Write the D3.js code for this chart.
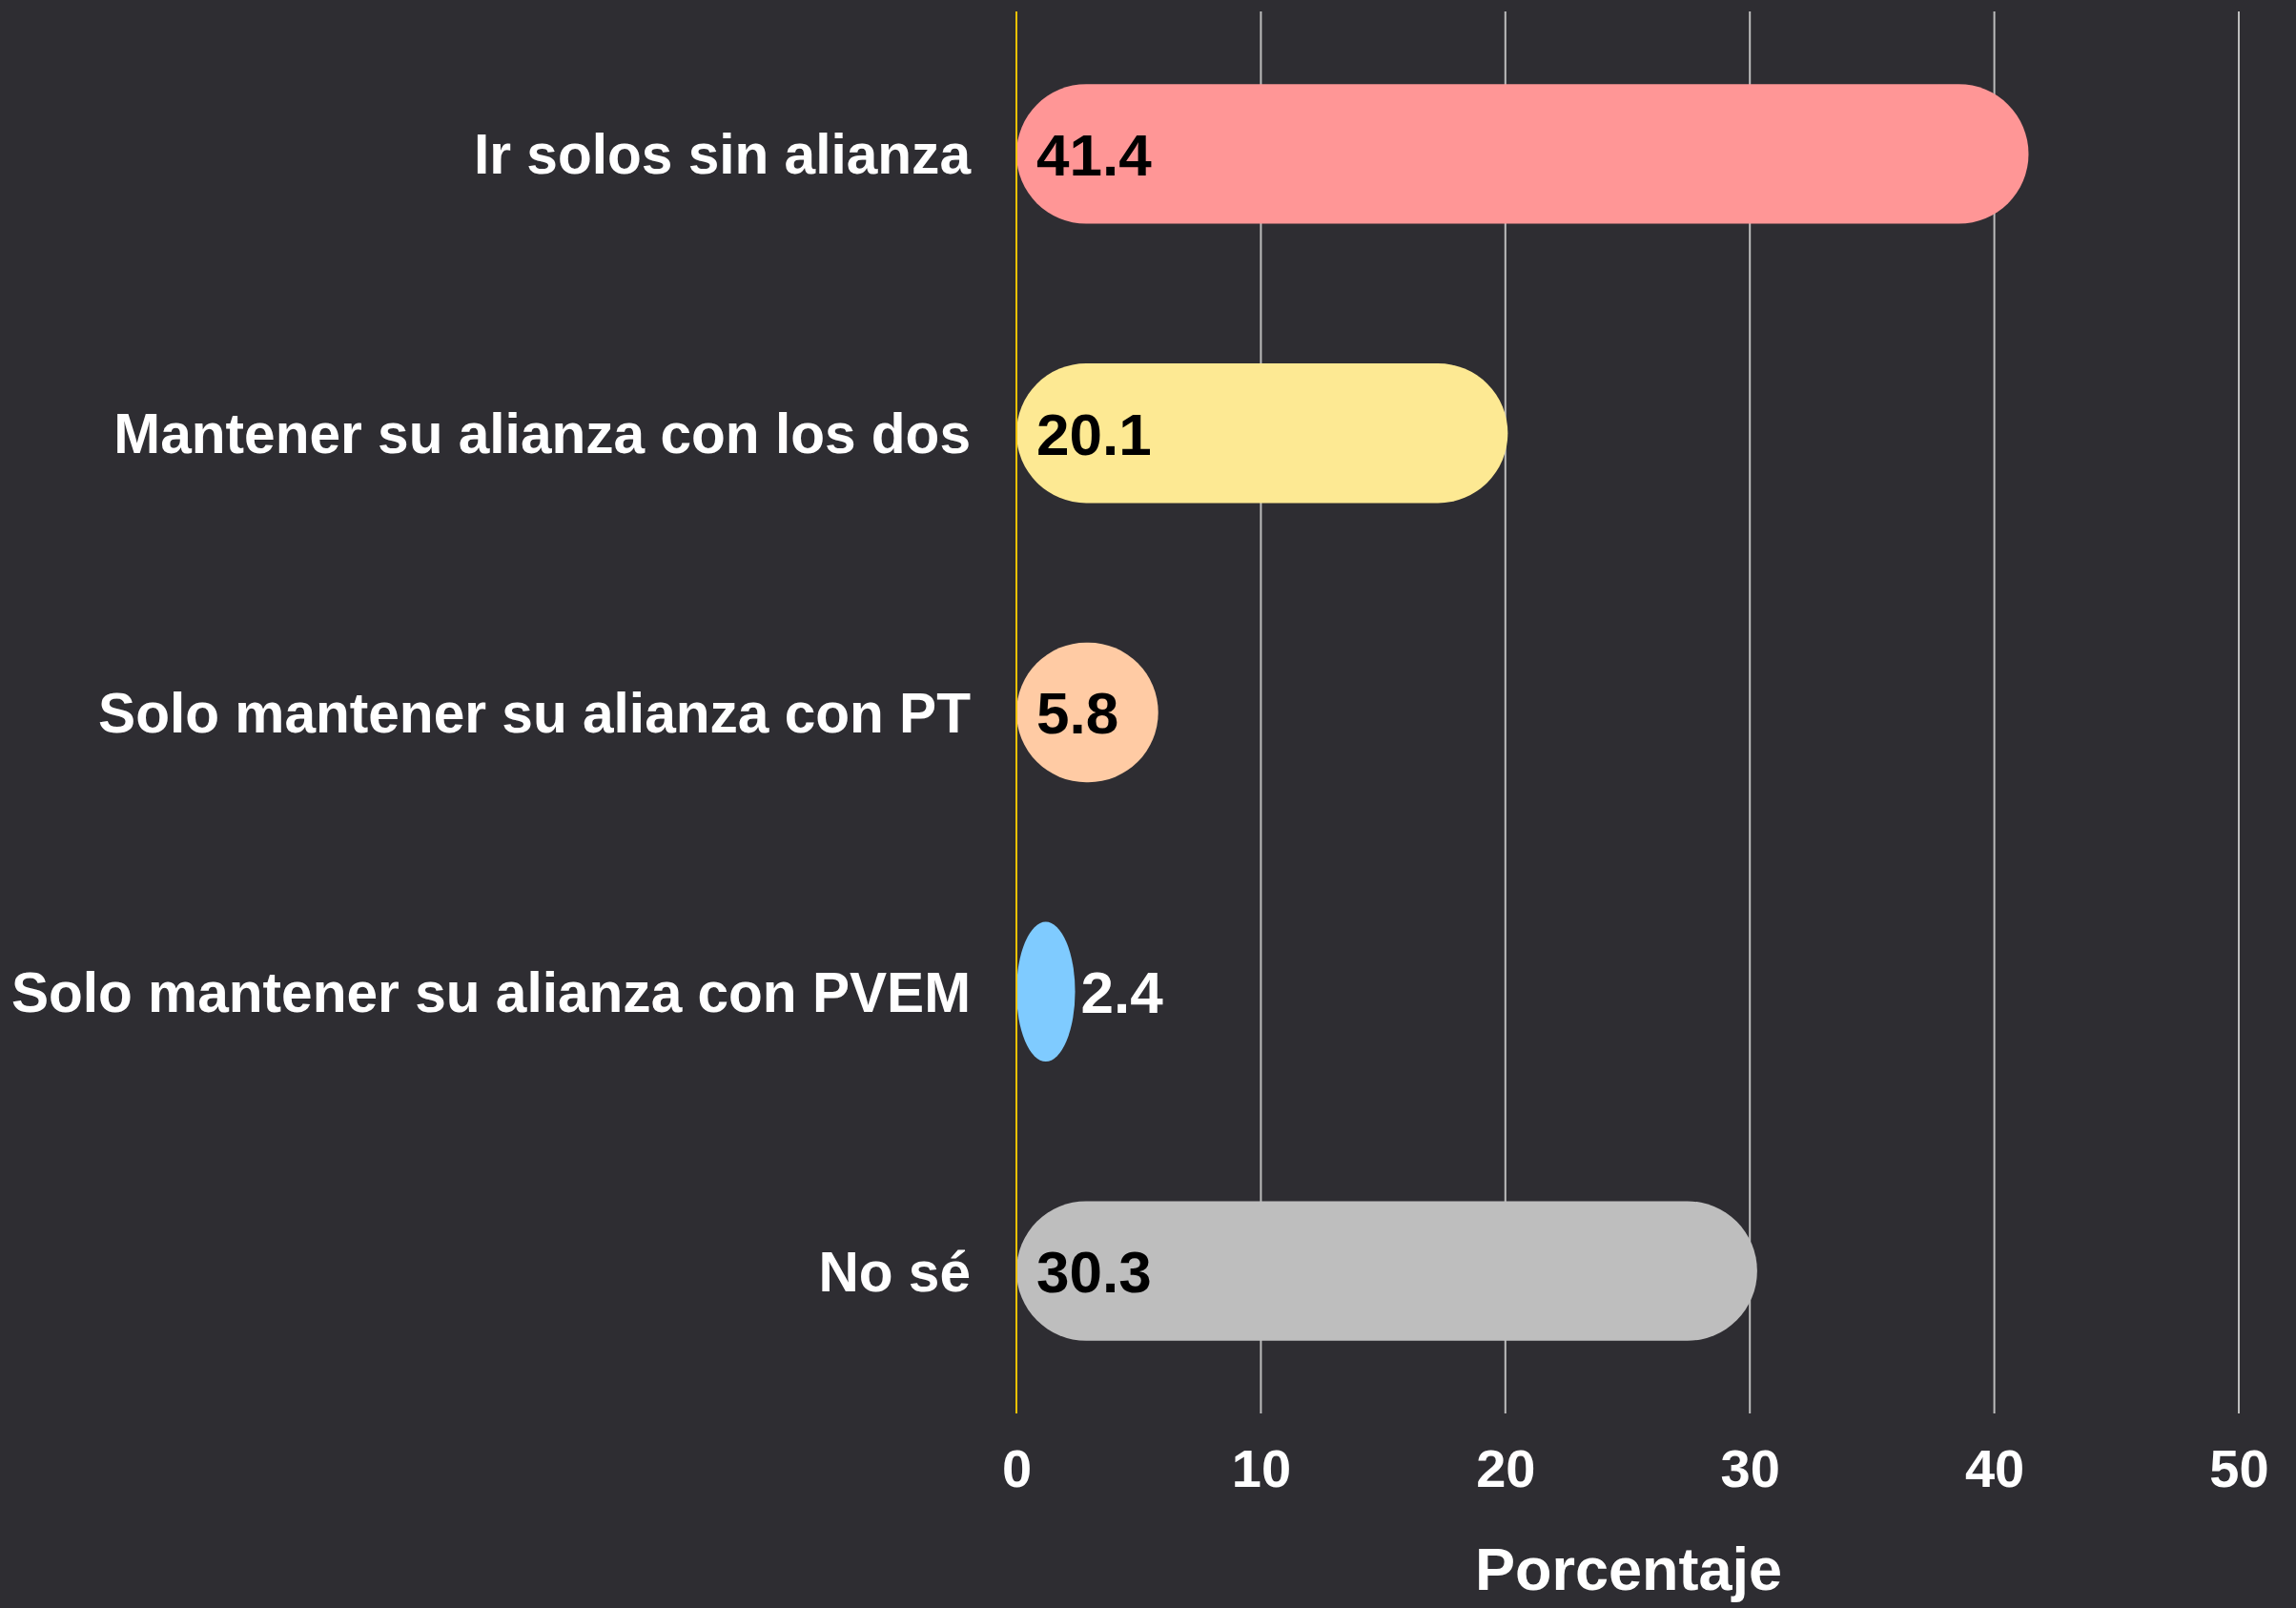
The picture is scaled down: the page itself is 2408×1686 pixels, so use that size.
<!DOCTYPE html>
<html><head><meta charset="utf-8">
<script src="https://cdn.jsdelivr.net/npm/d3@7"></script>
<style>
html,body{margin:0;padding:0;background:#2e2d32;}
svg{display:block;}
text{font-family:"Liberation Sans",Arial,Helvetica,sans-serif;font-weight:bold;}
</style></head>
<body>
<svg id="chart" width="2408" height="1686"></svg>
<script>
const categories = ["Ir solos sin alianza","Mantener su alianza con los dos","Solo mantener su alianza con PT","Solo mantener su alianza con PVEM","No sé"];
const values = [41.4, 20.1, 5.8, 2.4, 30.3];
const colors = ["#ff9696","#fde993","#ffcba4","#7fcbff","#bebebe"];
const xTicks = [0,10,20,30,40,50];
const xTitle = "Porcentaje";

const svg = d3.select("#chart");
svg.append("rect").attr("width",2408).attr("height",1686).attr("fill","#2e2d32");

const x = d3.scaleLinear().domain([0,50]).range([1066,2348]);
const y = d3.scaleBand().domain(categories).range([15,1479]).paddingInner(0.5).paddingOuter(0.25);
const plotTop = 12, plotBottom = 1482;

// gridlines
svg.append("g").selectAll("line").data(xTicks.filter(d=>d>0)).join("line")
  .attr("x1",d=>x(d)).attr("x2",d=>x(d)).attr("y1",plotTop).attr("y2",plotBottom)
  .attr("stroke","#bdbdbd").attr("stroke-width",2);

// bars
const bh = y.bandwidth();
svg.append("g").selectAll("rect").data(categories).join("rect")
  .attr("x",x(0)).attr("y",d=>y(d))
  .attr("width",(d,i)=>x(values[i])-x(0))
  .attr("height",bh)
  .attr("rx",(d,i)=>Math.min(bh/2,(x(values[i])-x(0))/2))
  .attr("ry",bh/2)
  .attr("fill",(d,i)=>colors[i]);

// zero line
svg.append("line").attr("x1",x(0)).attr("x2",x(0)).attr("y1",plotTop).attr("y2",plotBottom)
  .attr("stroke","#f2c200").attr("stroke-width",2);

// value labels
svg.append("g").selectAll("text").data(categories).join("text")
  .attr("x",(d,i)=> (x(values[i])-x(0) > 120) ? x(0)+21 : x(values[i])+6)
  .attr("y",d=>y(d)+bh/2)
  .attr("dy","0.36em")
  .attr("font-size",62)
  .attr("fill",(d,i)=> (x(values[i])-x(0) > 120) ? "#000" : "#fff")
  .text((d,i)=>values[i].toFixed(1));

// category labels
svg.append("g").selectAll("text").data(categories).join("text")
  .attr("x",1018).attr("y",d=>y(d)+bh/2).attr("dy","0.36em")
  .attr("text-anchor","end").attr("font-size",58.6).attr("fill","#fff")
  .text(d=>d);

// x axis tick labels
const xAxis = d3.axisBottom(x).tickValues(xTicks).tickSize(0).tickPadding(0);
const gx = svg.append("g").attr("transform","translate(0,1559)").call(xAxis);
gx.select(".domain").remove();
gx.selectAll("text").attr("y",0).attr("dy",0).attr("font-size",56).attr("fill","#fff")
  .style("font-family",'"Liberation Sans",Arial,sans-serif').style("font-weight","bold");

// axis title
svg.append("text").attr("x",(x(0)+x(50))/2+1).attr("y",1667)
  .attr("text-anchor","middle").attr("font-size",63).attr("fill","#fff").text(xTitle);
</script>
</body></html>
